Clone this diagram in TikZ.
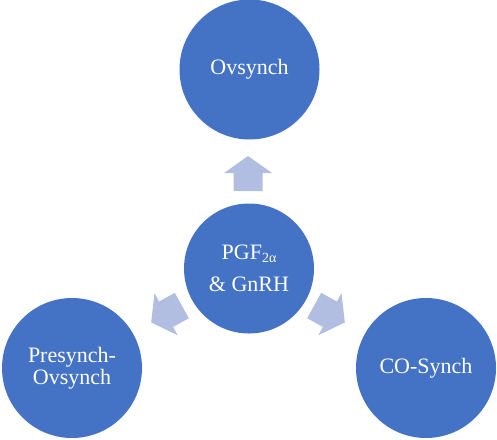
\documentclass[tikz,border=0pt]{standalone}
\usepackage{fontspec}
\setmainfont{Liberation Serif}
\definecolor{circblue}{RGB}{68,114,196}
\definecolor{arrowblue}{RGB}{178,190,225}
\begin{document}
\begin{tikzpicture}[x=1pt,y=1pt,
  bubble/.style={circle, fill=circblue, text=white, inner sep=0pt,
    minimum size=140pt, align=center, font=\fontsize{22}{22}\selectfont},
  hub/.style={bubble, minimum size=130pt, font=\fontsize{22}{32}\selectfont},
  blockarrow/.style={fill=arrowblue}]
\useasboundingbox (0,0) rectangle (497,-439);
\node[hub] (c) at (249,-268.5) {PGF\raisebox{-3pt}{\fontsize{14}{14}\selectfont 2α}\\\& GnRH};
\node[bubble] (t) at (249.5,-69.5) {Ovsynch};
\node[bubble] (l) at (72,-368) {Presynch-\\Ovsynch};
\node[bubble] (r) at (426,-368) {CO-Synch};
\foreach \px/\py/\ang in {248/-173.5/90, 166.5/-314/208.9, 329.5/-314/331.1}{
  \fill[blockarrow, shift={(\px,\py)}, rotate=\ang]
    (-17.5,14.5) -- (0.5,14.5) -- (0.5,24) -- (17.5,0) -- (0.5,-24)
    -- (0.5,-14.5) -- (-17.5,-14.5) -- cycle;
}
\end{tikzpicture}
\end{document}
